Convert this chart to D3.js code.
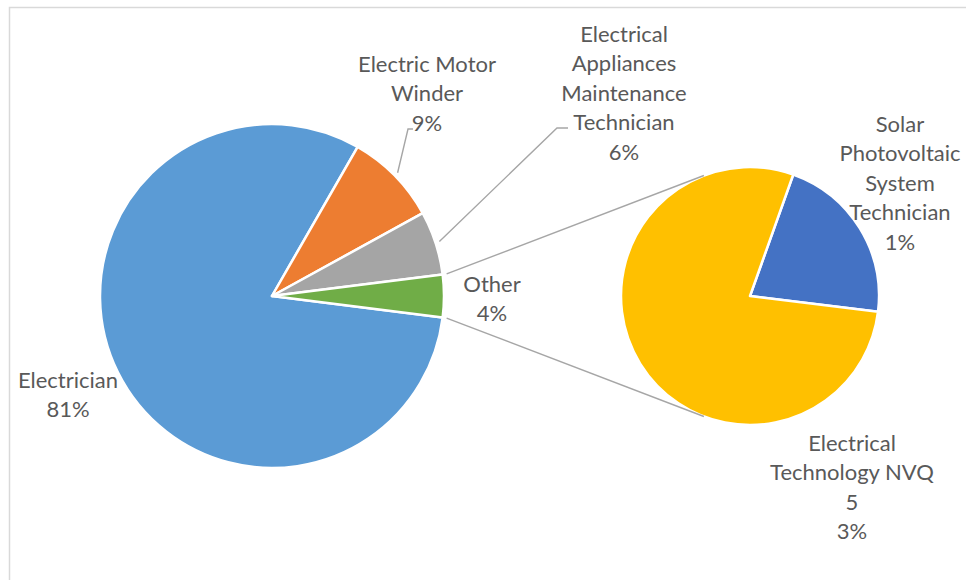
<!DOCTYPE html>
<html>
<head>
<meta charset="utf-8">
<script src="https://cdn.jsdelivr.net/npm/d3@7"></script>
<style>
  html, body { margin: 0; padding: 0; background: #fff; }
  svg { display: block; }
</style>
</head>
<body>
<svg id="chart" width="966" height="580"></svg>
<script>
// ---- Data ----
const mainCategories = ["Electrician", "Electric Motor Winder", "Electrical Appliances Maintenance Technician", "Other"];
const mainValues = [81.3, 8.7, 6.0, 4.0];
const subCategories = ["Solar Photovoltaic System Technician", "Electrical Technology NVQ 5"];
const subValues = [0.86, 3.14];
const mainColors = ["#5B9BD5", "#ED7D31", "#A5A5A5", "#70AD47"];
const subColors = ["#4472C4", "#FFC000"];

// wrapped label lines (text only)
const mainLabelLines = [["Electrician"], ["Electric Motor", "Winder"], ["Electrical", "Appliances", "Maintenance", "Technician"], ["Other"]];
const subLabelLines = [["Solar", "Photovoltaic", "System", "Technician"], ["Electrical", "Technology NVQ", "5"]];

// ---- Layout ----
const W = 966, H = 580;
const mainC = { x: 272, y: 296, r: 172 };
const subC = { x: 750, y: 296, r: 129 };
const lineH = 29.6;
const textColor = "#595959";
const lineColor = "#A6A6A6";
const mainLabelPos = [{ x: 68, y: 379 }, { x: 427, y: 63 }, { x: 624, y: 33 }, { x: 492, y: 283 }];
const subLabelPos = [{ x: 900, y: 123 }, { x: 852, y: 442 }];
const mainLeaders = [null, [[0, 4], [408, 129], [413, 129]], [[0, 4], [557, 128], [568, 128]], null];

const svg = d3.select("#chart");
svg.append("rect").attr("x", 9.5).attr("y", 7.5).attr("width", 1000).attr("height", 1000)
  .attr("fill", "#fff").attr("stroke", "#D9D9D9").attr("stroke-width", 1.5);

const total = d3.sum(mainValues);
const pct = d3.format(".0%");
const deg = Math.PI / 180;

// main pie: "Other" slice centered on the right horizontal
const otherShare = mainValues[3] / total;
const mainStart = (90 + otherShare * 180) * deg;
const mainPie = d3.pie().sort(null).value(d => d)
  .startAngle(mainStart).endAngle(mainStart + 2 * Math.PI);
const mainArcs = mainPie(mainValues);
const mainArcGen = d3.arc().innerRadius(0).outerRadius(mainC.r);

const gMain = svg.append("g").attr("transform", `translate(${mainC.x},${mainC.y})`);
gMain.selectAll("path").data(mainArcs).join("path")
  .attr("d", mainArcGen)
  .attr("fill", (d, i) => mainColors[i])
  .attr("stroke", "#fff").attr("stroke-width", 2.5).attr("stroke-linejoin", "round");

// secondary pie
const subTotal = d3.sum(subValues);
const subStart = 19.6 * deg;
const subPie = d3.pie().sort(null).value(d => d)
  .startAngle(subStart).endAngle(subStart + 2 * Math.PI);
const subArcs = subPie(subValues);
const subArcGen = d3.arc().innerRadius(0).outerRadius(subC.r);
const gSub = svg.append("g").attr("transform", `translate(${subC.x},${subC.y})`);
gSub.selectAll("path").data(subArcs).join("path")
  .attr("d", subArcGen)
  .attr("fill", (d, i) => subColors[i])
  .attr("stroke", "#fff").attr("stroke-width", 2.5).attr("stroke-linejoin", "round");

// connector lines: from ends of "Other" arc, tangent to secondary pie
const otherArc = mainArcs[3];
function polar(c, r, a) { return [c.x + r * Math.sin(a), c.y - r * Math.cos(a)]; }
function tangentPoint(p, upper) {
  const dx = p[0] - subC.x, dy = p[1] - subC.y;
  const d = Math.hypot(dx, dy);
  const base = Math.atan2(dx, -dy); // d3 angle of p from subC
  const off = Math.acos(subC.r / d);
  const a = upper ? base + off : base - off;
  return polar(subC, subC.r, a);
}
const pTop = polar(mainC, mainC.r + 4, otherArc.startAngle);
const pBot = polar(mainC, mainC.r + 4, otherArc.endAngle);
[[pTop, tangentPoint(pTop, true)], [pBot, tangentPoint(pBot, false)]].forEach(seg => {
  svg.append("line")
    .attr("x1", seg[0][0]).attr("y1", seg[0][1])
    .attr("x2", seg[1][0]).attr("y2", seg[1][1])
    .attr("stroke", lineColor).attr("stroke-width", 1.4);
});

// leader lines
mainArcs.forEach((a, i) => {
  const ld = mainLeaders[i];
  if (!ld) return;
  const mid = (a.startAngle + a.endAngle) / 2;
  const start = polar(mainC, mainC.r + ld[0][1], mid);
  const pts = [start].concat(ld.slice(1));
  svg.append("path").attr("d", d3.line()(pts))
    .attr("fill", "none").attr("stroke", lineColor).attr("stroke-width", 1.4);
});

// labels
function drawLabel(pos, lines) {
  const t = svg.append("text")
    .attr("text-anchor", "middle")
    .attr("font-family", "Lato, 'Open Sans', sans-serif")
    .attr("font-size", 22)
    .attr("fill", textColor);
  lines.forEach((ln, k) => {
    t.append("tspan").attr("x", pos.x).attr("y", pos.y + k * lineH)
      .attr("dominant-baseline", "central").text(ln);
  });
}
mainArcs.forEach((a, i) => {
  drawLabel(mainLabelPos[i], mainLabelLines[i].concat([pct(mainValues[i] / total)]));
});
subArcs.forEach((a, i) => {
  drawLabel(subLabelPos[i], subLabelLines[i].concat([pct(subValues[i] / total)]));
});
</script>
</body>
</html>
